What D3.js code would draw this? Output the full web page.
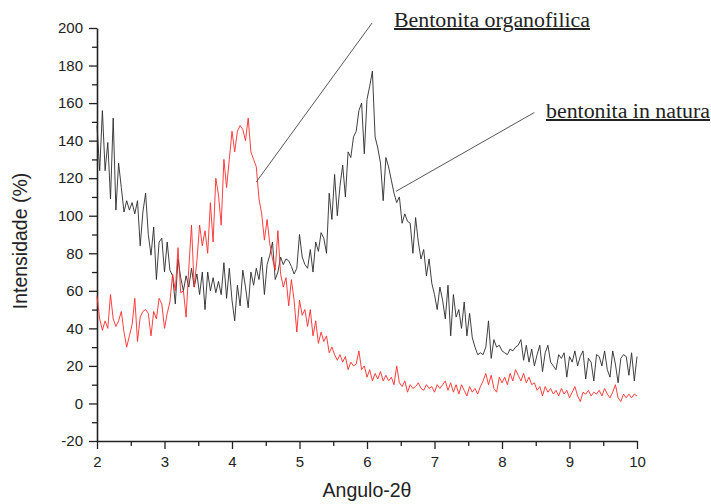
<!DOCTYPE html>
<html>
<head>
<meta charset="utf-8">
<script src="https://cdn.jsdelivr.net/npm/d3@7"></script>
<style>
  body { margin: 0; background: #fff; }
  text { font-family: "Liberation Sans", Arial, sans-serif; fill: #222; }
  .note { font-family: "Liberation Serif", "Times New Roman", serif; text-decoration: underline; }
</style>
</head>
<body>
<div id="chart-area"></div>
<script>
// angle grid: 2 to 10, step 0.04
const angleStart = 2;
const angleStep = 0.04;

// bentonita in natura (black)
const naturaValues = [
  148, 124, 156, 124, 139, 109, 152, 103, 128, 115, 102, 108, 103, 107, 101, 108, 84, 102, 112, 90,
  79, 94, 66, 86, 88, 70, 86, 71, 68, 53, 77, 67, 60, 68, 62,
  72, 62, 69, 58, 70, 50, 70, 60, 67, 59, 65, 58, 75, 56, 72, 55, 44, 63, 52, 71,
  62, 51, 70, 63, 72, 66, 78, 58, 74, 79, 86,
  66, 70, 78, 74, 77, 76, 73, 69, 72, 90, 78, 74, 72, 82, 70, 86, 81, 91, 88, 80,
  112, 98, 122, 100, 116, 127, 110, 134, 131, 142, 145, 156, 160, 133, 162, 169, 177,
  142, 136, 128, 108, 131, 126, 119, 112, 107, 110, 96, 101, 97, 96, 80, 99, 86, 77, 82, 68,
  77, 64, 58, 50, 62, 55, 45, 63, 36, 58, 46, 50,
  40, 54, 36, 48, 35, 30, 26, 27, 26, 30, 44, 24, 34, 30, 31, 28, 27, 26, 29, 28,
  30, 31, 34, 23, 31, 22, 29, 20, 26, 31, 17, 27, 31, 22, 20, 18, 26, 24, 27, 14,
  25, 22, 28, 20, 25, 28, 13, 24, 22, 12, 26, 25, 20, 28, 18, 14, 28, 21, 11, 24,
  26, 25, 15, 27, 12, 25
];

// bentonita organofilica (red)
const organoValues = [
  57, 45, 39, 44, 40, 58, 45, 41, 44, 49, 38, 30, 36, 42, 56, 33, 46, 49, 50, 48,
  36, 49, 45, 56, 53, 40, 48, 54, 69, 60, 83, 59, 60, 46, 72, 95, 62, 76, 95, 84,
  92, 80, 107, 86, 120, 111, 95, 130, 115, 130, 145, 134, 145, 148, 146, 140, 152, 134, 130, 126,
  109, 101, 87, 98, 85, 77,
  71, 92, 69, 62, 67, 52, 66, 55, 38, 55, 47, 50, 41, 50, 36, 44, 32, 38, 33, 36,
  27, 30, 26, 23, 26, 22, 25, 18, 22, 20, 21, 28, 18, 20, 14,
  18, 12, 16, 13, 17, 12, 15, 12, 14, 10, 20, 11, 9, 12, 6, 10, 8, 9, 11, 8,
  7, 10, 8, 9, 6, 10, 8, 10, 12, 7, 11, 6, 10, 5, 10, 7, 4, 9, 6, 8,
  5, 9, 12, 16, 10, 15, 8, 6, 14, 11, 14, 10, 16, 12, 18, 15, 12, 16, 11, 14,
  10, 11, 7, 9, 4, 9, 6, 8, 5, 7, 4, 8, 5, 7, 3, 6, 9, 4, 1, 6,
  5, 7, 4, 6, 5, 7, 4, 8, 5, 3, 6, 10, 3, 1, 5, 3, 5, 3, 5, 4
];

const xTicks = [2, 3, 4, 5, 6, 7, 8, 9, 10];
const yTicks = [-20, 0, 20, 40, 60, 80, 100, 120, 140, 160, 180, 200];

const margin = { left: 97, right: 74, top: 28, bottom: 63 };
const width = 711 - margin.left - margin.right;
const height = 504 - margin.top - margin.bottom;

const svg = d3.select('#chart-area').append('svg')
  .attr('width', 711)
  .attr('height', 504);

const g = svg.append('g')
  .attr('transform', `translate(${margin.left}, ${margin.top})`);

const x = d3.scaleLinear().domain([2, 10]).range([0, width]);
const y = d3.scaleLinear().domain([-20, 200]).range([height, 0]);

const toPoints = vals => vals.map((v, i) => ({ a: angleStart + i * angleStep, v: v }));

const line = d3.line()
  .x(d => x(d.a))
  .y(d => y(d.v));

// minor ticks
g.append('g')
  .attr('transform', `translate(0, ${height})`)
  .call(d3.axisBottom(x).tickValues(d3.range(2.5, 10, 1)).tickSize(5).tickFormat(''))
  .call(a => a.select('.domain').remove());
g.append('g')
  .call(d3.axisLeft(y).tickValues(d3.range(-10, 200, 20)).tickSize(5).tickFormat(''))
  .call(a => a.select('.domain').remove());

// x axis
g.append('g')
  .attr('class', 'x-axis')
  .attr('transform', `translate(0, ${height})`)
  .call(d3.axisBottom(x).tickValues(xTicks).tickSize(8).tickSizeOuter(0).tickPadding(7)
    .tickFormat(d => String(d)))
  .selectAll('text')
    .attr('font-size', '15px');

// y axis
g.append('g')
  .attr('class', 'y-axis')
  .call(d3.axisLeft(y).tickValues(yTicks).tickSize(8).tickSizeOuter(0).tickPadding(6)
    .tickFormat(d => String(d)))
  .selectAll('text')
    .attr('font-size', '15px');

g.selectAll('.domain, .tick line')
  .attr('stroke', '#222');
g.selectAll('.domain').attr('stroke-width', 1.6);
g.selectAll('.tick line').attr('stroke-width', 1.3);

// series
g.append('path')
  .datum(toPoints(naturaValues))
  .attr('fill', 'none')
  .attr('stroke', '#2a2a2a')
  .attr('stroke-width', 0.9)
  .attr('d', line);

g.append('path')
  .datum(toPoints(organoValues))
  .attr('fill', 'none')
  .attr('stroke', '#ff2a2a')
  .attr('stroke-width', 0.9)
  .attr('d', line);

// axis labels
g.append('text')
  .attr('x', width / 2)
  .attr('y', height + 56)
  .attr('font-size', '19.5px')
  .attr('text-anchor', 'middle')
  .text('Angulo-2θ');

g.append('text')
  .attr('x', -(213))
  .attr('y', -70)
  .attr('font-size', '19.5px')
  .attr('text-anchor', 'middle')
  .attr('transform', 'rotate(-90)')
  .text('Intensidade (%)');

// annotations
g.append('line')
  .attr('x1', x(4.36)).attr('y1', y(118))
  .attr('x2', x(6.06) + 1).attr('y2', -5)
  .attr('stroke', '#555').attr('stroke-width', 1);

g.append('line')
  .attr('x1', x(6.43)).attr('y1', y(113))
  .attr('x2', x(8.48)).attr('y2', y(155))
  .attr('stroke', '#555').attr('stroke-width', 1);

g.append('text')
  .attr('class', 'note')
  .attr('x', 394 - margin.left)
  .attr('y', 27 - margin.top)
  .attr('font-size', '20px')
  .attr('textLength', 196)
  .attr('lengthAdjust', 'spacingAndGlyphs')
  .text('Bentonita organofilica');

g.append('text')
  .attr('class', 'note')
  .attr('x', 546 - margin.left)
  .attr('y', 118 - margin.top)
  .attr('font-size', '20px')
  .attr('textLength', 164)
  .attr('lengthAdjust', 'spacingAndGlyphs')
  .text('bentonita in natura');
</script>
</body>
</html>
